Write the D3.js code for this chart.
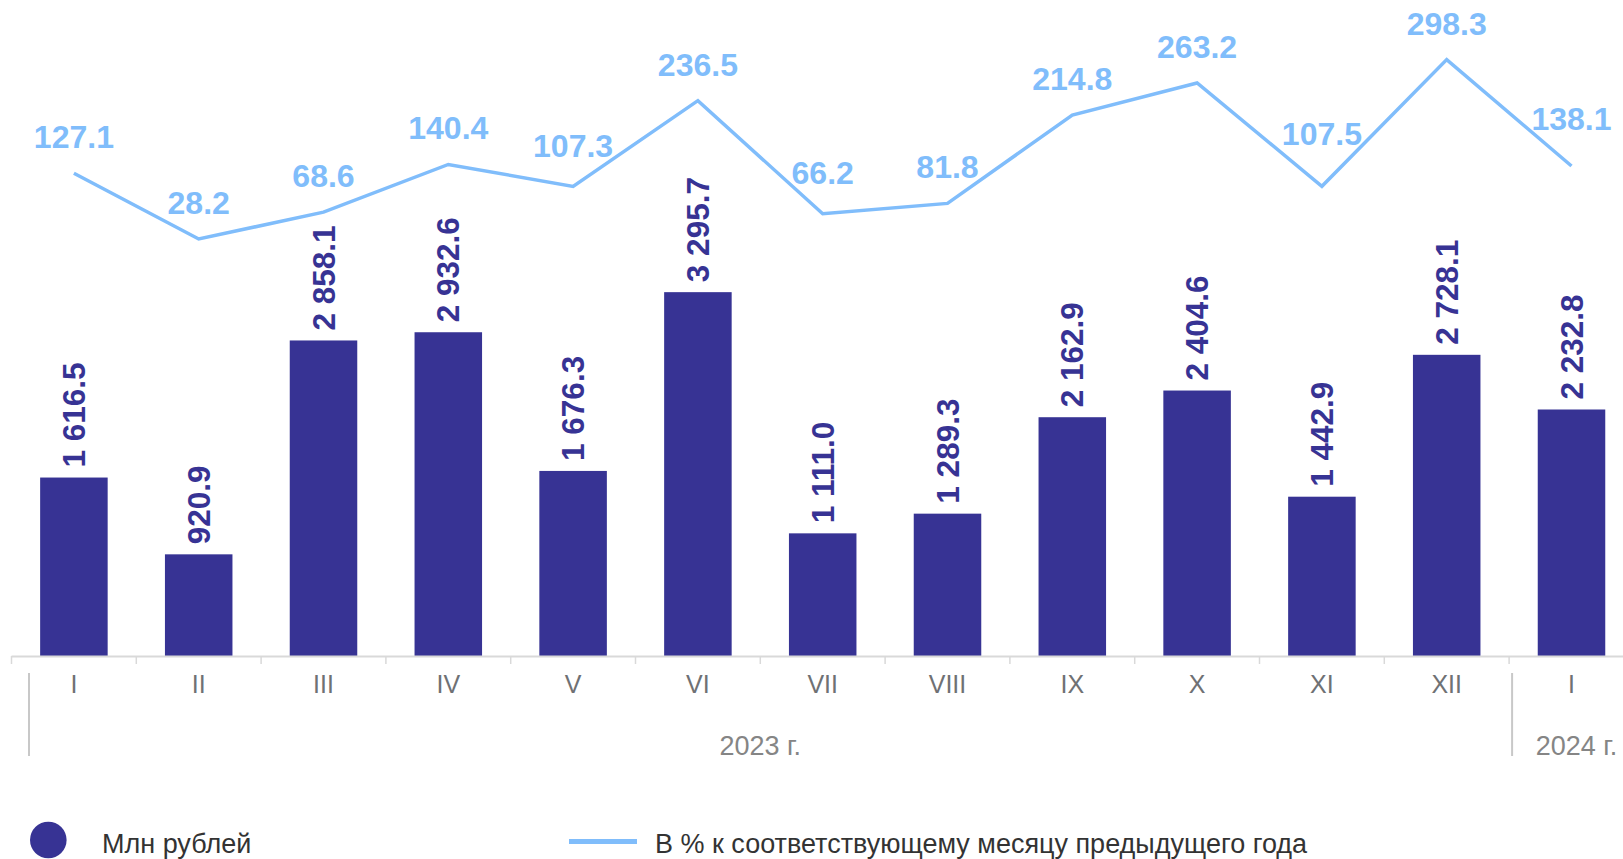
<!DOCTYPE html>
<html>
<head>
<meta charset="utf-8">
<script src="https://cdn.jsdelivr.net/npm/d3@7"></script>
<style>
  html, body { margin: 0; padding: 0; background: #fff; }
  svg { display: block; font-family: "Liberation Sans", Arial, sans-serif; }
</style>
</head>
<body>
<svg id="chart" width="1623" height="859"></svg>
<script>
// ---- data ----
const months = ["I", "II", "III", "IV", "V", "VI", "VII", "VIII", "IX", "X", "XI", "XII", "I"];
const amounts = [1616.5, 920.9, 2858.1, 2932.6, 1676.3, 3295.7, 1111.0, 1289.3, 2162.9, 2404.6, 1442.9, 2728.1, 2232.8];
const percents = [127.1, 28.2, 68.6, 140.4, 107.3, 236.5, 66.2, 81.8, 214.8, 263.2, 107.5, 298.3, 138.1];
const years = ["2023 г.", "2024 г."];
const yearCounts = [12, 1];
const legendBar = "Млн рублей";
const legendLine = "В % к соответствующему месяцу предыдущего года";

// ---- styles ----
const barColor = "#373394";
const lineColor = "#80bdfb";
const axisColor = "#d9d9d9";

const svg = d3.select("#chart");
const idx = months.map((d, i) => i);

const x = d3.scaleBand()
  .domain(idx)
  .range([11.5, 1633.9])
  .paddingInner(0.459)
  .paddingOuter(0.2295);
const step = x.step();
const x0 = x.range()[0];

const yBar = d3.scaleLinear().domain([0, 3000]).range([656, 324.8]);
const yLine = d3.scaleLinear().domain([0, 300]).range([257.7, 58.5]);

// bars
svg.append("g").selectAll("rect")
  .data(idx)
  .join("rect")
  .attr("x", i => x(i))
  .attr("y", i => yBar(amounts[i]))
  .attr("width", x.bandwidth())
  .attr("height", i => yBar(0) - yBar(amounts[i]))
  .attr("fill", barColor);

// bar labels
const fmt = v => {
  const s = v.toFixed(1);
  const [ip, dp] = s.split(".");
  return ip.replace(/\B(?=(\d{3})+(?!\d))/g, " ") + "." + dp;
};
svg.append("g").selectAll("text")
  .data(idx)
  .join("text")
  .attr("transform", i => `translate(${x(i) + x.bandwidth() / 2 + 11},${yBar(amounts[i]) - 10}) rotate(-90)`)
  .attr("text-anchor", "start")
  .attr("fill", barColor)
  .attr("font-size", 31.5)
  .attr("font-weight", "bold")
  .text(i => fmt(amounts[i]));

// axis
const axisG = svg.append("g");
axisG.append("line")
  .attr("x1", x0).attr("x2", 1623)
  .attr("y1", yBar(0) + 0.5).attr("y2", yBar(0) + 0.5)
  .attr("stroke", axisColor).attr("stroke-width", 2);
axisG.selectAll("line.tick")
  .data(d3.range(months.length + 1))
  .join("line")
  .attr("class", "tick")
  .attr("x1", k => x0 + k * step).attr("x2", k => x0 + k * step)
  .attr("y1", yBar(0)).attr("y2", yBar(0) + 8)
  .attr("stroke", axisColor).attr("stroke-width", 1.5);
axisG.selectAll("text.month")
  .data(idx)
  .join("text")
  .attr("class", "month")
  .attr("x", i => x(i) + x.bandwidth() / 2)
  .attr("y", 693)
  .attr("text-anchor", "middle")
  .attr("fill", "#6f7174")
  .attr("font-size", 25)
  .text(i => months[i]);

// year groups
let start = 0;
years.forEach((yr, g) => {
  const a = x0 + start * step;
  const b = x0 + (start + yearCounts[g]) * step;
  const sepX = g === 0 ? a + 17.5 : a + 3;
  axisG.append("line")
    .attr("x1", sepX).attr("x2", sepX)
    .attr("y1", 673).attr("y2", 756)
    .attr("stroke", "#c8c8c8").attr("stroke-width", 2);
  axisG.append("text")
    .attr("x", g === 0 ? (a + b) / 2 : (a + b) / 2 + 5)
    .attr("y", 755)
    .attr("text-anchor", "middle")
    .attr("fill", "#858585")
    .attr("font-size", 27)
    .text(yr);
  start += yearCounts[g];
});

// line
const pts = idx.map(i => [x(i) + x.bandwidth() / 2, yLine(percents[i])]);
svg.append("path")
  .attr("d", d3.line()(pts))
  .attr("fill", "none")
  .attr("stroke", lineColor)
  .attr("stroke-width", 3.5);

// line labels: above point, lifted to clear the line under the label
function lineYAt(px) {
  for (let k = 0; k < pts.length - 1; k++) {
    const [xa, ya] = pts[k], [xb, yb] = pts[k + 1];
    if (px >= xa && px <= xb) return ya + (yb - ya) * (px - xa) / (xb - xa);
  }
  return null;
}
const lbl = svg.append("g").selectAll("text")
  .data(idx)
  .join("text")
  .attr("x", i => pts[i][0])
  .attr("text-anchor", "middle")
  .attr("fill", lineColor)
  .attr("font-size", 32)
  .attr("font-weight", "bold")
  .text(i => percents[i].toFixed(1));
lbl.attr("y", function (i) {
  const w = this.getComputedTextLength();
  const [cx, cy] = pts[i];
  let base = cy - 25;
  [cx - w / 2 + 3, cx + w / 2 - 3].forEach(px => {
    const ly = lineYAt(px);
    if (ly !== null) base = Math.min(base, ly - 4);
  });
  return base;
});

// legend
const leg = svg.append("g");
leg.append("circle").attr("cx", 48.3).attr("cy", 840).attr("r", 18.3).attr("fill", barColor);
leg.append("text").attr("x", 102).attr("y", 853).attr("font-size", 27).attr("fill", "#333333").text(legendBar);
leg.append("line").attr("x1", 569).attr("x2", 637).attr("y1", 841.5).attr("y2", 841.5)
  .attr("stroke", lineColor).attr("stroke-width", 5);
leg.append("text").attr("x", 655).attr("y", 853).attr("font-size", 27).attr("fill", "#333333").text(legendLine);
</script>
</body>
</html>
